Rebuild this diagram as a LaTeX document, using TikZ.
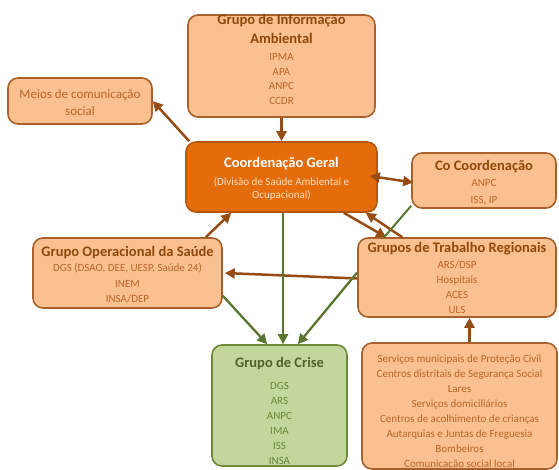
\documentclass[tikz,border=0pt]{standalone}
\usepackage{fontspec}
\setmainfont{Carlito}
\usetikzlibrary{arrows.meta}
\definecolor{lfill}{HTML}{FAC090}
\definecolor{lborder}{HTML}{A8612C}
\definecolor{ttl}{HTML}{8E480B}
\definecolor{sub}{HTML}{B8652A}
\definecolor{cfill}{HTML}{E46C0A}
\definecolor{cborder}{HTML}{B4570C}
\definecolor{csub}{HTML}{FDE0C6}
\definecolor{gfill}{HTML}{C3D69B}
\definecolor{gborder}{HTML}{6F8A38}
\definecolor{gttl}{HTML}{4F6228}
\definecolor{gsub}{HTML}{6A8538}
\definecolor{barrow}{HTML}{964C15}
\definecolor{garrow}{HTML}{5A7530}
\tikzset{
  boxl/.style={draw=lborder, fill=lfill, line width=1.6pt, rounded corners=10pt, inner sep=0pt},
  boxc/.style={draw=cborder, fill=cfill, line width=1.6pt, rounded corners=10pt, inner sep=0pt},
  boxg/.style={draw=gborder, fill=gfill, line width=1.6pt, rounded corners=10pt, inner sep=0pt},
  ttext/.style={anchor=base, inner sep=0pt, text=ttl, font=\fontsize{14.5}{16}\selectfont\bfseries},
  stext/.style={anchor=base, inner sep=0pt, text=sub, font=\fontsize{11}{13}\selectfont},
  barr/.style={draw=barrow, line width=2.5pt, -{Triangle[length=10pt,width=10pt]}},
  garr/.style={draw=garrow, line width=2.3pt, -{Triangle[length=10pt,width=10pt]}},
}
\begin{document}
\begin{tikzpicture}[x=1pt,y=-1pt]
\useasboundingbox (0,0) rectangle (559,470);
% boxes
\node[boxl, minimum width=187pt, minimum height=102pt] (info) at (281.5,66) {};
\node[boxl, minimum width=144pt, minimum height=46pt] (meios) at (80,101) {};
\node[boxc, minimum width=191pt, minimum height=70pt] (coord) at (281.5,177) {};
\node[boxl, minimum width=144pt, minimum height=55pt] (cocoord) at (484,180.5) {};
\node[boxl, minimum width=189pt, minimum height=70pt] (oper) at (127.5,273) {};
\node[boxl, minimum width=198pt, minimum height=79pt] (trab) at (457,277.5) {};
\node[boxg, minimum width=135pt, minimum height=121pt] (crise) at (279.5,405.5) {};
\node[boxl, minimum width=195pt, minimum height=126pt] (local) at (459.5,406) {};
% texts: info
\node[ttext] (info-t1) at (281.5,24.5) {Grupo de Informação};
\node[ttext] (info-t2) at (281.5,43.5) {Ambiental};
\foreach \t [count=\i] in {IPMA,APA,ANPC,CCDR}
  \node[stext] (info-s\i) at (281.5,61+14.5*\i-14.5) {\t};
% meios
\node[stext, font=\fontsize{13}{15}\selectfont] (meios-1) at (80,99) {Meios de comunicação};
\node[stext, font=\fontsize{13}{15}\selectfont] (meios-2) at (80,116) {social};
% coord
\node[ttext, text=white] (coord-t) at (281.5,168) {Coordenação Geral};
\node[stext, text=csub] (coord-s1) at (281.5,185.5) {(Divisão de Saúde Ambiental e};
\node[stext, text=csub] (coord-s2) at (281.5,199) {Ocupacional)};
% cocoord
\node[ttext] (co-t) at (484,171) {Co Coordenação};
\node[stext] (co-s1) at (484,187) {ANPC};
\node[stext] (co-s2) at (484,204) {ISS, IP};
% oper
\node[ttext] (oper-t) at (127.5,257) {Grupo Operacional da Saúde};
\foreach \t [count=\i] in {{DGS (DSAO, DEE, UESP, Saúde 24)},INEM,INSA/DEP}
  \node[stext] (oper-s\i) at (127.5,272+15*\i-15) {\t};
% trab
\node[ttext] (trab-t) at (457,253) {Grupos de Trabalho Regionais};
\foreach \t [count=\i] in {ARS/DSP,Hospitais,ACES,ULS}
  \node[stext] (trab-s\i) at (457,269+14.7*\i-14.7) {\t};
% crise
\node[ttext, text=gttl] (crise-t) at (279.5,367) {Grupo de Crise};
\foreach \t [count=\i] in {DGS,ARS,ANPC,IMA,ISS,INSA}
  \node[stext, text=gsub] (crise-s\i) at (279.5,389+15*\i-15) {\t};
% local
\foreach \t [count=\i] in {Serviços municipais de Proteção Civil,Centros distritais de Segurança Social,Lares,Serviços domiciliários,Centros de acolhimento de crianças,Autarquias e Juntas de Freguesia,Bombeiros,Comunicação social local}
  \node[stext] (local-s\i) at (459.5,362+15*\i-15) {\t};
% connectors
\draw[barr] (info.south) -- (coord.north);
\draw[barr] ([xshift=4pt]coord.north west) -- (meios.east);
\draw[draw=barrow, line width=2.5pt, {Triangle[length=10pt,width=10pt]}-{Triangle[length=10pt,width=10pt]}] ([xshift=-8pt,yshift=1pt]coord.east) -- ([xshift=2pt,yshift=-2pt]cocoord.west);
\draw[barr] ([xshift=-34pt]coord.south east) -- ([xshift=29pt]trab.north west);
\draw[barr] ([xshift=45pt]trab.north west) -- ([xshift=-12pt]coord.south east);
\draw[draw=garrow, line width=2pt] ([yshift=3pt]cocoord.south west) -- ([xshift=27pt]trab.north west);
\draw[barr] ([xshift=-17pt]oper.north east) -- ([xshift=46pt]coord.south west);
\draw[barr] ([yshift=-1pt]trab.west) -- ([xshift=2pt]oper.east);
\draw[garr] ([xshift=1.5pt]coord.south) -- ([xshift=3.5pt]crise.north);
\draw[garr] ([yshift=13pt]oper.south east) -- ([xshift=56pt]crise.north west);
\draw[garr] ([yshift=5pt]trab.west) -- ([xshift=-50pt]crise.north east);
\draw[barr] ([xshift=10pt]local.north) -- ([xshift=10pt]local.north |- trab.south);
\end{tikzpicture}
\end{document}
